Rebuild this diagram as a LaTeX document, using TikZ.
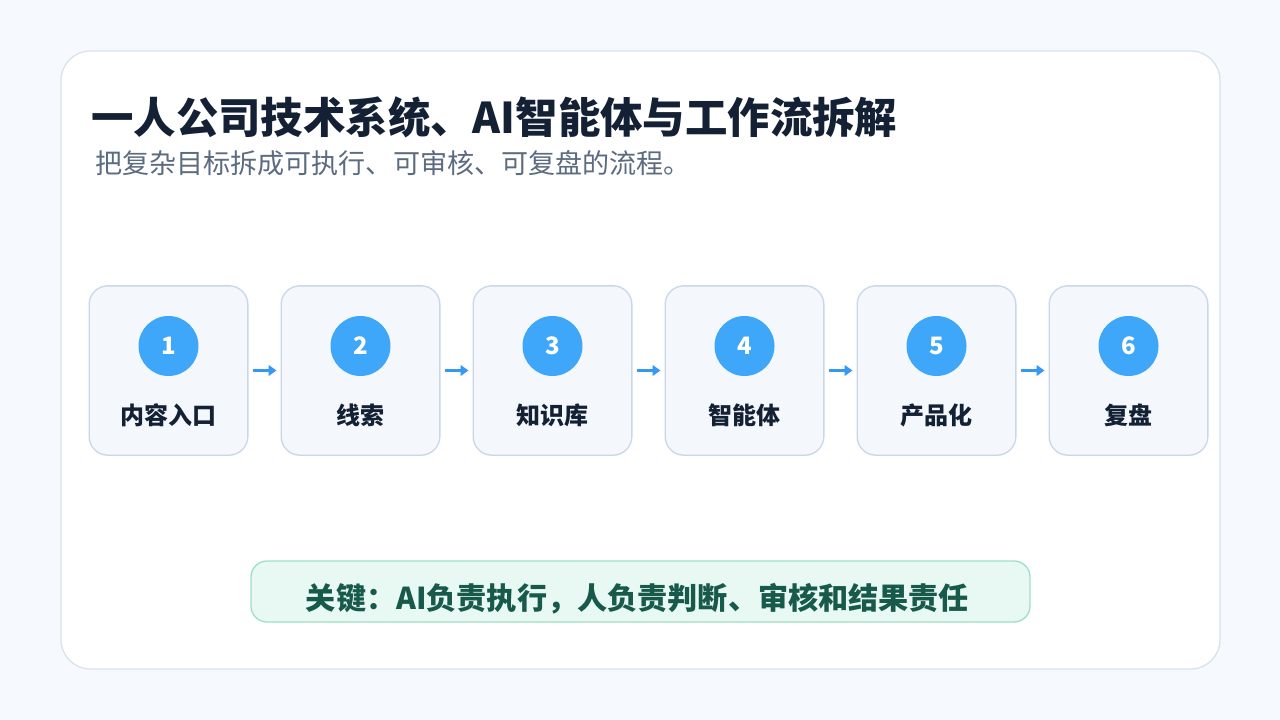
\documentclass[tikz,border=0pt]{standalone}
\usepackage{fontspec}
\setmainfont{Noto Sans CJK SC}
\usetikzlibrary{arrows.meta}
\definecolor{bg}{HTML}{F6F9FD}
\definecolor{cardb}{HTML}{D9E3EE}
\definecolor{navy}{HTML}{142033}
\definecolor{sub}{HTML}{5B6B80}
\definecolor{boxf}{HTML}{F4F8FD}
\definecolor{boxb}{HTML}{C8D7EA}
\definecolor{circ}{HTML}{3FA7FA}
\definecolor{arr}{HTML}{3399F5}
\definecolor{keyf}{HTML}{E8F8F3}
\definecolor{keyb}{HTML}{9FDFC7}
\definecolor{keyt}{HTML}{17594A}
\tikzset{
 stepbox/.style={draw=boxb,fill=boxf,line width=1pt,rounded corners=14pt,minimum width=119pt,minimum height=127pt},
 numc/.style={circle,fill=circ,minimum size=45pt,inner sep=0pt,text=white,font=\bfseries\fontsize{18}{18}\selectfont},
 lab/.style={text=navy,font=\bfseries\fontsize{18}{18}\selectfont},
 flow/.style={draw=arr,line width=2.2pt,-{Triangle[length=6pt,width=8pt]}}
}
\begin{document}
\begin{tikzpicture}[x=0.75pt,y=-0.75pt]
\fill[bg] (0,0) rectangle (1280,720);
\useasboundingbox (0,0) rectangle (1280,720);
\draw[cardb,fill=white,line width=1pt,rounded corners=22pt] (61,51) rectangle (1220,669);
\node[anchor=west,text=navy,font=\bfseries\fontsize{31.8}{32}\selectfont,inner sep=0] (title) at (91,117) {一人公司技术系统、AI智能体与工作流拆解};
\node[anchor=west,text=sub,font=\fontsize{20.3}{21}\selectfont,inner sep=0] (subt) at (95,163) {把复杂目标拆成可执行、可审核、可复盘的流程。};
\foreach \i/\t in {1/内容入口,2/线索,3/知识库,4/智能体,5/产品化,6/复盘}{
 \pgfmathsetmacro{\cx}{168.5+192*(\i-1)}
 \node[stepbox] (b\i) at (\cx,370.5) {};
 \node[numc] (c\i) at (\cx,346) {\i};
 \node[lab] (l\i) at (\cx,415) {\t};
}
\foreach \i [evaluate=\i as \j using int(\i+1)] in {1,...,5}{
 \draw[flow] ([xshift=3pt]b\i.east) -- ([xshift=-3pt]b\j.west);
}
\draw[keyb,fill=keyf,line width=1pt,rounded corners=12pt] (251,561) rectangle (1030,622);
\node[text=keyt,font=\bfseries\fontsize{22.6}{23}\selectfont] (key) at (637.5,599) {关键：AI负责执行，人负责判断、审核和结果责任};
\end{tikzpicture}
\end{document}
